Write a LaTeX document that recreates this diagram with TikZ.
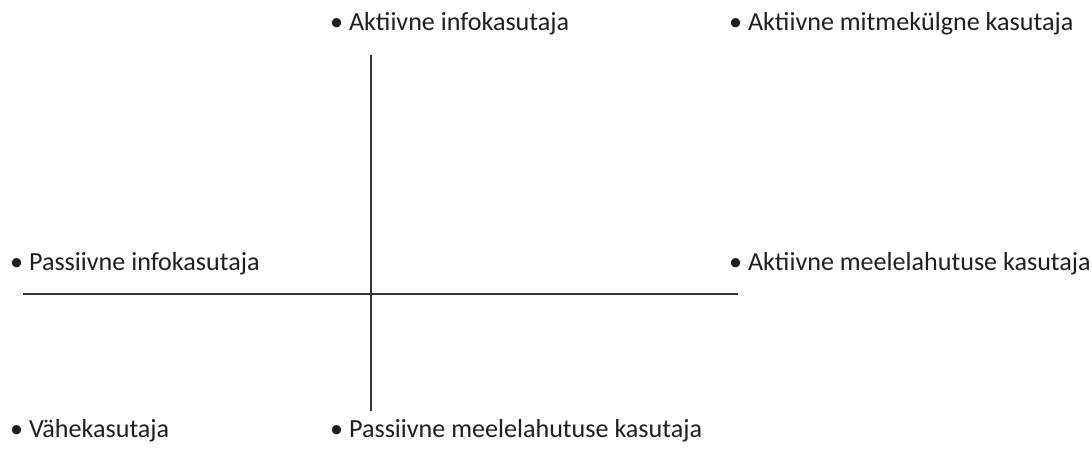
\documentclass[tikz,border=0pt]{standalone}
\usepackage{fontspec}
\setmainfont{Carlito}
\begin{document}
\begin{tikzpicture}[x=1pt, y=1pt,
	kasutaja/.style={anchor=base west, inner sep=0pt, font=\fontsize{26.1}{31}\selectfont, text=black!88},
	telg/.style={line width=1.2pt, color=black!80}]
		%%%%% START %%%%%
		
		\useasboundingbox (0, 0) rectangle (1092, 457);
		
		\coordinate (ylemine) at (371, 402);
		\coordinate (alumine) at (371, 46);
		\coordinate (vasak) at (23, 163);
		\coordinate (parem) at (738, 163);
		
		\draw[telg] (ylemine) -- (alumine);
		\draw[telg] (vasak) -- (parem);
		
		\node[kasutaja] (aktinfo) at (330, 426) {• Aktiivne infokasutaja};
		\node[kasutaja] (aktmitme) at (729, 426) {• Aktiivne mitmekülgne kasutaja};
		\node[kasutaja] (passinfo) at (10, 186) {• Passiivne infokasutaja};
		\node[kasutaja] (aktmeele) at (729, 186) {• Aktiivne meelelahutuse kasutaja};
		\node[kasutaja] (vahe) at (10, 19) {• Vähekasutaja};
		\node[kasutaja] (passmeele) at (330, 19) {• Passiivne meelelahutuse kasutaja};
		
		%%%%% END %%%%%
	\end{tikzpicture}
\end{document}
